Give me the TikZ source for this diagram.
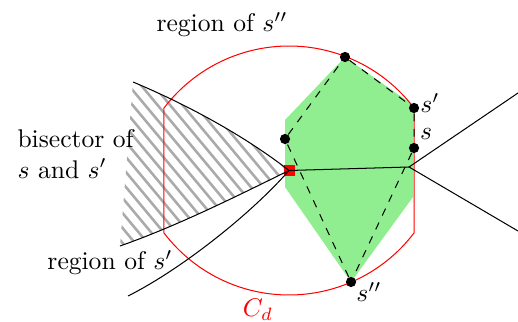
\documentclass[tikz,border=0pt]{standalone}
\usepackage{amsmath,amssymb}
\usepackage{xcolor}
\usepackage{tikz}
\usetikzlibrary{positioning, calc}
\definecolor{cellgreen}{RGB}{144,238,144}
\definecolor{hatchgray}{RGB}{170,170,170}

\begin{document}
\begin{tikzpicture}[
  x=0.01375cm, y=-0.01375cm,
  site/.style={circle, fill=black, inner sep=0pt, minimum size=4pt},
  vertex/.style={fill=red, inner sep=0pt, minimum size=4.3pt},
  lbl/.style={inner sep=0pt},
  hatch/.style={hatchgray, line width=1pt},
]
\useasboundingbox (0,0) rectangle (518,322);

% Green cell
\fill[cellgreen] (345,57) -- (413,105) -- (413,197) -- (351,282)
  -- (285,187) -- (285,120) -- cycle;

% Free ends of the curves
\coordinate (b1) at (133,82);
\coordinate (b2) at (120,246);
\coordinate (r1) at (128,296);
\coordinate (j)  at (409,167);
\coordinate (ne) at (518,93);
\coordinate (se) at (518,231);

% Hatched region
\begin{scope}
  \clip (b1) .. controls (195,108) and (250,140) .. (289,170.5)
        .. controls (245,192) and (180,225) .. (b2) -- cycle;
  \foreach \k in {-14,...,13}
    \draw[hatch] (120+12.5*\k,60) -- ++(200,240);
\end{scope}

% Disk C_d
\draw[red] plot[domain=142.8:37.2, samples=60] ({289+157*cos(\x)}, {203-157*sin(\x)})
  -- plot[domain=37.2:142.8, samples=60] ({289+157*cos(\x)}, {138+157*sin(\x)})
  -- cycle;

% Vertex
\node[vertex] (v) at (289,170.5) {};

% Bisectors
\draw (b1) .. controls (195,108) and (250,140) .. (v.center);
\draw (b2) .. controls (180,225) and (245,192) .. (v.center);
\draw (r1) .. controls (180,270) and (250,215) .. (v.center);
\draw (v.center) -- (j);
\draw (j) -- (ne);
\draw (j) -- (se);

% Sites
\node[site] (stop) at (345,57) {};
\node[site] (sp) at (414,108) {};
\node[site] (s) at (414,148) {};
\node[site] (spp) at (351,282) {};
\node[site] (sleft) at (285,139) {};

\draw[dashed] (stop) -- (sp) -- (s) -- (spp) -- (sleft) -- (stop);

% Labels
\node[lbl] (lsp) at (430,103) {$s'$};
\node[lbl] (ls) at (426,134) {$s$};
\node[lbl] (lspp) at (369,292) {$s''$};
\node[lbl, text=red] (lcd) at (258,310) {$C_d$};
\node[lbl] (rspp) at (222,25) {region of $s''$};
\node[lbl] (rsp) at (110,263) {region of $s'$};
\node[lbl, align=left, anchor=west] (bis) at (17,154) {bisector of\\ $s$ and $s'$};

\end{tikzpicture}
\end{document}
